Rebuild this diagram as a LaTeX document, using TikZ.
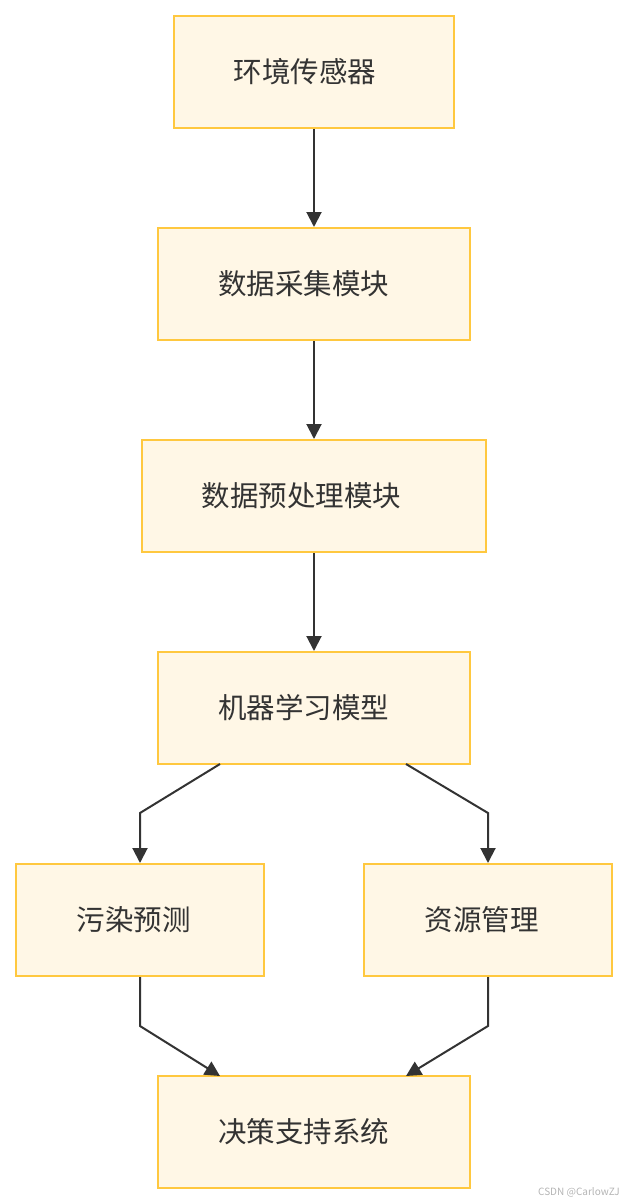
\documentclass[tikz,border=0pt]{standalone}
\usepackage{fontspec}
\setmainfont{Noto Sans CJK SC}
\usetikzlibrary{arrows.meta}
\definecolor{boxfill}{HTML}{FFF7E6}
\definecolor{boxdraw}{HTML}{FFC83F}
\definecolor{linec}{HTML}{333333}
\definecolor{textc}{HTML}{333333}
\definecolor{markc}{HTML}{B4B4B4}
\begin{document}
\begin{tikzpicture}[x=1pt,y=-1pt,
  box/.style={draw=boxdraw, fill=boxfill, line width=2pt, minimum width=#1, minimum height=112pt, inner sep=0pt},
  lbl/.style={inner sep=0pt, text=textc, font=\fontsize{28.5}{31}\selectfont},
  arr/.style={draw=linec, line width=2pt, -{Triangle[length=15pt,width=15pt]}}]
\useasboundingbox (0,0) rectangle (628,1204);
\node[box=280pt] (b1) at (314,72) {};
\node[box=312pt] (b2) at (314,284) {};
\node[box=344pt] (b3) at (314,496) {};
\node[box=312pt] (b4) at (314,708) {};
\node[box=248pt] (b5) at (140,920) {};
\node[box=248pt] (b6) at (488,920) {};
\node[box=312pt] (b7) at (314,1132) {};
\node[lbl] (t1) at (305,72) {环境传感器};
\node[lbl] (t2) at (303.5,284) {数据采集模块};
\node[lbl] (t3) at (301.5,496) {数据预处理模块};
\node[lbl] (t4) at (303.5,708) {机器学习模型};
\node[lbl] (t5) at (133.5,920) {污染预测};
\node[lbl] (t6) at (481.5,920) {资源管理};
\node[lbl] (t7) at (303.5,1132) {决策支持系统};
\coordinate (s4l) at (220,764);
\coordinate (s4r) at (406,764);
\coordinate (k1) at (140,813);
\coordinate (k2) at (488,813);
\coordinate (k3) at (140,1026);
\coordinate (k4) at (488,1026);
\coordinate (e7l) at (220,1076);
\coordinate (e7r) at (406,1076);
\draw[arr] (b1) -- (b2);
\draw[arr] (b2) -- (b3);
\draw[arr] (b3) -- (b4);
\draw[arr] (s4l) -- (k1) -- (b5.north);
\draw[arr] (s4r) -- (k2) -- (b6.north);
\draw[arr] (b5.south) -- (k3) -- (e7l);
\draw[arr] (b6.south) -- (k4) -- (e7r);
\node[text=markc, font=\fontsize{10}{11}\selectfont, anchor=east, inner sep=0pt] (wm) at (620,1192) {CSDN @CarlowZJ};
\end{tikzpicture}
\end{document}
